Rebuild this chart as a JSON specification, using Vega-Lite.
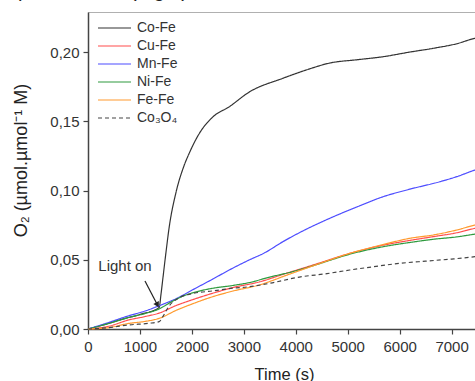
{
  "$schema": "https://vega.github.io/schema/vega-lite/v6.json",
  "autosize": "none",
  "padding": {"left": 88, "top": 12, "right": 0, "bottom": 52},
  "width": 392,
  "height": 317,
  "background": "white",
  "title": {"text": "osphate buffer (Fig.2).", "anchor": "start", "frame": "group", "fontSize": 20, "fontWeight": "normal", "font": "Liberation Sans", "color": "#222", "baseline": "alphabetic", "dx": -91, "dy": 5, "offset": 0},
  "config": {
    "view": {"stroke": "#b0b0b0", "strokeWidth": 1},
    "font": "Liberation Sans"
  },
  "datasets": {
    "curves": [
      {"series": "Co-Fe", "t": 0, "v": 0},
      {"series": "Co-Fe", "t": 300, "v": 0.003},
      {"series": "Co-Fe", "t": 700, "v": 0.0075},
      {"series": "Co-Fe", "t": 1000, "v": 0.0105},
      {"series": "Co-Fe", "t": 1370, "v": 0.0155},
      {"series": "Co-Fe", "t": 1405, "v": 0.025},
      {"series": "Co-Fe", "t": 1440, "v": 0.036},
      {"series": "Co-Fe", "t": 1500, "v": 0.055},
      {"series": "Co-Fe", "t": 1565, "v": 0.074},
      {"series": "Co-Fe", "t": 1690, "v": 0.098},
      {"series": "Co-Fe", "t": 1850, "v": 0.118},
      {"series": "Co-Fe", "t": 1950, "v": 0.127},
      {"series": "Co-Fe", "t": 2140, "v": 0.141},
      {"series": "Co-Fe", "t": 2400, "v": 0.153},
      {"series": "Co-Fe", "t": 2720, "v": 0.1605},
      {"series": "Co-Fe", "t": 3100, "v": 0.171},
      {"series": "Co-Fe", "t": 3750, "v": 0.181},
      {"series": "Co-Fe", "t": 4200, "v": 0.187},
      {"series": "Co-Fe", "t": 4650, "v": 0.192},
      {"series": "Co-Fe", "t": 5200, "v": 0.1945},
      {"series": "Co-Fe", "t": 5680, "v": 0.1966},
      {"series": "Co-Fe", "t": 6200, "v": 0.2},
      {"series": "Co-Fe", "t": 6650, "v": 0.2027},
      {"series": "Co-Fe", "t": 7100, "v": 0.206},
      {"series": "Co-Fe", "t": 7450, "v": 0.2099},
      {"series": "Co-Fe", "t": 7550, "v": 0.2106},

      {"series": "Cu-Fe", "t": 0, "v": 0},
      {"series": "Cu-Fe", "t": 400, "v": 0.002},
      {"series": "Cu-Fe", "t": 780, "v": 0.0065},
      {"series": "Cu-Fe", "t": 1100, "v": 0.009},
      {"series": "Cu-Fe", "t": 1370, "v": 0.0115},
      {"series": "Cu-Fe", "t": 1700, "v": 0.017},
      {"series": "Cu-Fe", "t": 2000, "v": 0.021},
      {"series": "Cu-Fe", "t": 2400, "v": 0.0258},
      {"series": "Cu-Fe", "t": 2800, "v": 0.03},
      {"series": "Cu-Fe", "t": 3300, "v": 0.034},
      {"series": "Cu-Fe", "t": 3800, "v": 0.04},
      {"series": "Cu-Fe", "t": 4400, "v": 0.047},
      {"series": "Cu-Fe", "t": 5040, "v": 0.0546},
      {"series": "Cu-Fe", "t": 5680, "v": 0.0605},
      {"series": "Cu-Fe", "t": 6200, "v": 0.064},
      {"series": "Cu-Fe", "t": 6650, "v": 0.0667},
      {"series": "Cu-Fe", "t": 7100, "v": 0.0695},
      {"series": "Cu-Fe", "t": 7450, "v": 0.0727},
      {"series": "Cu-Fe", "t": 7550, "v": 0.0735},

      {"series": "Mn-Fe", "t": 0, "v": 0},
      {"series": "Mn-Fe", "t": 300, "v": 0.0035},
      {"series": "Mn-Fe", "t": 780, "v": 0.0095},
      {"series": "Mn-Fe", "t": 1100, "v": 0.013},
      {"series": "Mn-Fe", "t": 1370, "v": 0.0168},
      {"series": "Mn-Fe", "t": 1700, "v": 0.022},
      {"series": "Mn-Fe", "t": 2070, "v": 0.0294},
      {"series": "Mn-Fe", "t": 2400, "v": 0.036},
      {"series": "Mn-Fe", "t": 2720, "v": 0.0426},
      {"series": "Mn-Fe", "t": 3100, "v": 0.0498},
      {"series": "Mn-Fe", "t": 3400, "v": 0.055},
      {"series": "Mn-Fe", "t": 3750, "v": 0.063},
      {"series": "Mn-Fe", "t": 4200, "v": 0.072},
      {"series": "Mn-Fe", "t": 4720, "v": 0.081},
      {"series": "Mn-Fe", "t": 5200, "v": 0.0885},
      {"series": "Mn-Fe", "t": 5680, "v": 0.0955},
      {"series": "Mn-Fe", "t": 6200, "v": 0.101},
      {"series": "Mn-Fe", "t": 6780, "v": 0.1064},
      {"series": "Mn-Fe", "t": 7100, "v": 0.11},
      {"series": "Mn-Fe", "t": 7450, "v": 0.1148},
      {"series": "Mn-Fe", "t": 7550, "v": 0.116},

      {"series": "Ni-Fe", "t": 0, "v": 0},
      {"series": "Ni-Fe", "t": 400, "v": 0.004},
      {"series": "Ni-Fe", "t": 800, "v": 0.0085},
      {"series": "Ni-Fe", "t": 1100, "v": 0.0112},
      {"series": "Ni-Fe", "t": 1370, "v": 0.0145},
      {"series": "Ni-Fe", "t": 1600, "v": 0.0195},
      {"series": "Ni-Fe", "t": 1815, "v": 0.0235},
      {"series": "Ni-Fe", "t": 2100, "v": 0.027},
      {"series": "Ni-Fe", "t": 2400, "v": 0.0294},
      {"series": "Ni-Fe", "t": 2800, "v": 0.0315},
      {"series": "Ni-Fe", "t": 3100, "v": 0.0335},
      {"series": "Ni-Fe", "t": 3500, "v": 0.0375},
      {"series": "Ni-Fe", "t": 3940, "v": 0.0414},
      {"series": "Ni-Fe", "t": 4400, "v": 0.0465},
      {"series": "Ni-Fe", "t": 5040, "v": 0.054},
      {"series": "Ni-Fe", "t": 5680, "v": 0.0594},
      {"series": "Ni-Fe", "t": 6200, "v": 0.0625},
      {"series": "Ni-Fe", "t": 6650, "v": 0.0648},
      {"series": "Ni-Fe", "t": 7100, "v": 0.0665},
      {"series": "Ni-Fe", "t": 7450, "v": 0.0685},
      {"series": "Ni-Fe", "t": 7550, "v": 0.069},

      {"series": "Fe-Fe", "t": 0, "v": 0},
      {"series": "Fe-Fe", "t": 400, "v": 0.001},
      {"series": "Fe-Fe", "t": 780, "v": 0.004},
      {"series": "Fe-Fe", "t": 1100, "v": 0.0055},
      {"series": "Fe-Fe", "t": 1370, "v": 0.0077},
      {"series": "Fe-Fe", "t": 1700, "v": 0.0135},
      {"series": "Fe-Fe", "t": 2000, "v": 0.018},
      {"series": "Fe-Fe", "t": 2400, "v": 0.0233},
      {"series": "Fe-Fe", "t": 2800, "v": 0.0275},
      {"series": "Fe-Fe", "t": 3300, "v": 0.0318},
      {"series": "Fe-Fe", "t": 3800, "v": 0.0385},
      {"series": "Fe-Fe", "t": 4400, "v": 0.0465},
      {"series": "Fe-Fe", "t": 5040, "v": 0.0546},
      {"series": "Fe-Fe", "t": 5680, "v": 0.061},
      {"series": "Fe-Fe", "t": 6200, "v": 0.0655},
      {"series": "Fe-Fe", "t": 6650, "v": 0.0679},
      {"series": "Fe-Fe", "t": 7100, "v": 0.0715},
      {"series": "Fe-Fe", "t": 7450, "v": 0.0751},
      {"series": "Fe-Fe", "t": 7550, "v": 0.076},

      {"series": "Co₃O₄", "t": 0, "v": 0},
      {"series": "Co₃O₄", "t": 400, "v": 0.001},
      {"series": "Co₃O₄", "t": 800, "v": 0.003},
      {"series": "Co₃O₄", "t": 1170, "v": 0.0041},
      {"series": "Co₃O₄", "t": 1370, "v": 0.0053},
      {"series": "Co₃O₄", "t": 1450, "v": 0.0095},
      {"series": "Co₃O₄", "t": 1550, "v": 0.016},
      {"series": "Co₃O₄", "t": 1750, "v": 0.0225},
      {"series": "Co₃O₄", "t": 2000, "v": 0.0255},
      {"series": "Co₃O₄", "t": 2400, "v": 0.0275},
      {"series": "Co₃O₄", "t": 2800, "v": 0.0295},
      {"series": "Co₃O₄", "t": 3100, "v": 0.0305},
      {"series": "Co₃O₄", "t": 3500, "v": 0.033},
      {"series": "Co₃O₄", "t": 4070, "v": 0.0375},
      {"series": "Co₃O₄", "t": 4600, "v": 0.04},
      {"series": "Co₃O₄", "t": 5040, "v": 0.0426},
      {"series": "Co₃O₄", "t": 5500, "v": 0.045},
      {"series": "Co₃O₄", "t": 6000, "v": 0.0474},
      {"series": "Co₃O₄", "t": 6500, "v": 0.049},
      {"series": "Co₃O₄", "t": 7000, "v": 0.0505},
      {"series": "Co₃O₄", "t": 7450, "v": 0.0522},
      {"series": "Co₃O₄", "t": 7550, "v": 0.0527}
    ],
    "notes": [
      {"label": "Light on", "tx": 712, "ty": 0.0455, "x1": 1097, "y1": 0.0347, "x2": 1328, "y2": 0.018}
    ]
  },
  "layer": [
    {
      "data": {"name": "curves"},
      "mark": {"type": "line", "strokeWidth": 1.2, "interpolate": "monotone"},
      "encoding": {
        "x": {
          "field": "t", "type": "quantitative",
          "scale": {"domain": [0, 7547], "nice": false, "zero": false},
          "axis": {
            "title": "Time (s)", "titleFontSize": 16.5, "titleFontWeight": "normal", "titleColor": "#222",
            "titleAnchor": null, "titleAlign": "center", "titleBaseline": "alphabetic", "titleX": 196, "titleY": 50,
            "values": [0, 500, 1000, 1500, 2000, 2500, 3000, 3500, 4000, 4500, 5000, 5500, 6000, 6500, 7000, 7500],
            "labelExpr": "datum.value % 1000 == 0 ? format(datum.value, 'd') : ''",
            "labelFontSize": 15, "labelColor": "#333", "labelPadding": 5, "labelFlush": false, "labelOverlap": false,
            "tickSize": {"condition": {"test": "datum.value % 1000 != 0", "value": 3}, "value": 5},
            "tickColor": "#444", "tickWidth": 1.2, "domainColor": "#444", "domainWidth": 1.5, "grid": false
          }
        },
        "y": {
          "field": "v", "type": "quantitative",
          "scale": {"domain": [0, 0.2289], "nice": false, "zero": false},
          "axis": {
            "title": "O₂  (µmol.µmol⁻¹ M)", "titleFontSize": 18, "titleFontWeight": "normal", "titleColor": "#222",
            "titleAnchor": null, "titleAngle": 270, "titleAlign": "center", "titleBaseline": "middle", "titleX": -67, "titleY": 148,
            "values": [0, 0.025, 0.05, 0.075, 0.1, 0.125, 0.15, 0.175, 0.2, 0.225],
            "labelExpr": "round(datum.value * 1000) % 50 == 0 ? replace(format(datum.value, '.2f'), '.', ',') : ''",
            "labelFontSize": 15, "labelColor": "#333", "labelPadding": 4, "labelFlush": false, "labelOverlap": false,
            "tickSize": {"condition": {"test": "round(datum.value * 1000) % 50 != 0", "value": 3}, "value": 5},
            "tickColor": "#444", "tickWidth": 1.2, "domainColor": "#444", "domainWidth": 1.5, "grid": false
          }
        },
        "color": {
          "field": "series", "type": "nominal",
          "scale": {
            "domain": ["Co-Fe", "Cu-Fe", "Mn-Fe", "Ni-Fe", "Fe-Fe", "Co₃O₄"],
            "range": ["#333333", "#ff4d4d", "#4d4dff", "#2e9a3e", "#ff9a2e", "#444444"]
          },
          "legend": {
            "title": null, "orient": "none", "legendX": 19.5, "legendY": 9, "padding": 0,
            "symbolType": "M-2.75,0H2.75", "symbolSize": 144, "symbolStrokeWidth": 1.2,
            "labelFontSize": 14, "labelColor": "#333", "labelOffset": 15.5, "rowPadding": 4
          }
        },
        "strokeDash": {
          "field": "series", "type": "nominal",
          "scale": {
            "domain": ["Co-Fe", "Cu-Fe", "Mn-Fe", "Ni-Fe", "Fe-Fe", "Co₃O₄"],
            "range": [[1, 0], [1, 0], [1, 0], [1, 0], [1, 0], [4, 3]]
          },
          "legend": {
            "title": null, "orient": "none", "legendX": 19.5, "legendY": 9, "padding": 0,
            "symbolType": "M-2.75,0H2.75", "symbolSize": 144, "symbolStrokeWidth": 1.2,
            "labelFontSize": 14, "labelColor": "#333", "labelOffset": 15.5, "rowPadding": 4
          }
        }
      }
    },
    {
      "data": {"name": "notes"},
      "mark": {"type": "rule", "color": "#222", "strokeWidth": 1.2},
      "encoding": {
        "x": {"field": "x1", "type": "quantitative"},
        "y": {"field": "y1", "type": "quantitative"},
        "x2": {"field": "x2"},
        "y2": {"field": "y2"}
      }
    },
    {
      "data": {"name": "notes"},
      "mark": {"type": "point", "shape": "triangle", "filled": true, "color": "#222", "size": 40, "angle": 151, "opacity": 1},
      "encoding": {
        "x": {"field": "x2", "type": "quantitative"},
        "y": {"field": "y2", "type": "quantitative"}
      }
    },
    {
      "data": {"name": "notes"},
      "mark": {"type": "text", "fontSize": 15, "color": "#333", "align": "center", "baseline": "middle"},
      "encoding": {
        "x": {"field": "tx", "type": "quantitative"},
        "y": {"field": "ty", "type": "quantitative"},
        "text": {"field": "label"}
      }
    }
  ]
}
